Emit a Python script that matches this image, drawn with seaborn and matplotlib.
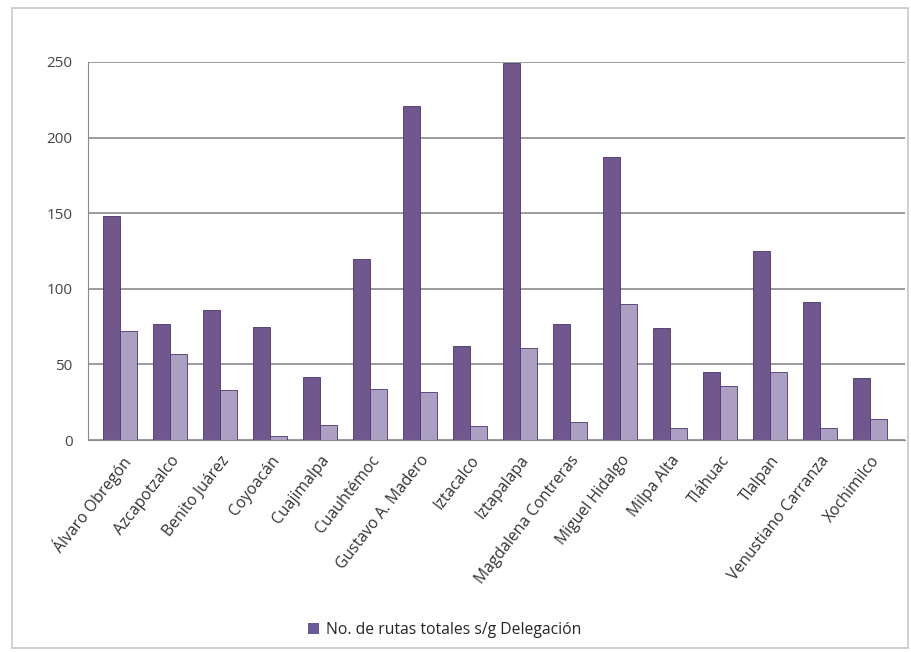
import matplotlib
matplotlib.use('Agg')
import matplotlib.pyplot as plt
from matplotlib.patches import Rectangle, Patch
import seaborn as sns
import pandas as pd
import numpy as np

sns.set_style('white')
plt.rcParams['font.family'] = ['Open Sans', 'DejaVu Sans']

# Data
delegaciones = ['Álvaro Obregón', 'Azcapotzalco', 'Benito Juárez', 'Coyoacán',
                'Cuajimalpa', 'Cuauhtémoc', 'Gustavo A. Madero', 'Iztacalco',
                'Iztapalapa', 'Magdalena Contreras', 'Miguel Hidalgo', 'Milpa Alta',
                'Tláhuac', 'Tlalpan', 'Venustiano Carranza', 'Xochimilco']
rutas_totales = [148, 77, 86, 75, 42, 120, 221, 62, 249, 77, 187, 74, 45, 125, 91, 41]
rutas_serie2 = [72, 57, 33, 3, 10, 34, 32, 9, 61, 12, 90, 8, 36, 45, 8, 14]
series = ['No. de rutas totales s/g Delegación', 'Serie 2']

df = pd.DataFrame({
    'delegacion': delegaciones * 2,
    'valor': rutas_totales + rutas_serie2,
    'serie': [series[0]] * len(delegaciones) + [series[1]] * len(delegaciones),
})

fig = plt.figure(figsize=(9.11, 6.52), dpi=100)
ax = fig.add_axes([0.0966, 0.325, 0.897, 0.58])

colors = ['#6f4f97', '#a99ac8']
sns.barplot(data=df, x='delegacion', y='valor', hue='serie', palette=colors,
            width=0.68, dodge=True, ax=ax, legend=False,
            edgecolor='#4a3470', linewidth=0.6)

ax.set_ylim(0, 250)
ax.set_xlim(-0.64, 15.7)
ax.set_yticks([0, 50, 100, 150, 200, 250])
ax.yaxis.grid(True, color='#8a8a8a', linewidth=1.2)
ax.set_axisbelow(True)
for s in ['top', 'right']:
    ax.spines[s].set_visible(False)
ax.spines['left'].set_color('#8a8a8a')
ax.spines['bottom'].set_color('#8a8a8a')
ax.set_xlabel('')
ax.set_ylabel('')
ax.tick_params(axis='y', labelsize=11, colors='#444444', pad=11, length=0)
ax.tick_params(axis='x', which='major', labelsize=11.3, colors='#333333', length=0, pad=9)
# tick marks between the groups
ax.set_xticks(np.arange(len(delegaciones) + 1) - 0.64, minor=True)
ax.tick_params(axis='x', which='minor', length=4, color='#8a8a8a')
plt.setp(ax.get_xticklabels(), rotation=52, ha='right', rotation_mode='anchor')

# legend with only the first series
handle = Patch(facecolor='#6a5a9a', edgecolor='none')
fig.legend([handle], [series[0]], loc='lower center', bbox_to_anchor=(0.488, 0.0),
           frameon=False, fontsize=11.3, handlelength=0.7, handleheight=0.7,
           handletextpad=0.4)

# outer chart frame
fig.patches.append(Rectangle((0.013, 0.006), 0.984, 0.982, transform=fig.transFigure,
                             fill=False, edgecolor='#c8c8c8', linewidth=1.2))

plt.savefig('out.png', dpi=100)
